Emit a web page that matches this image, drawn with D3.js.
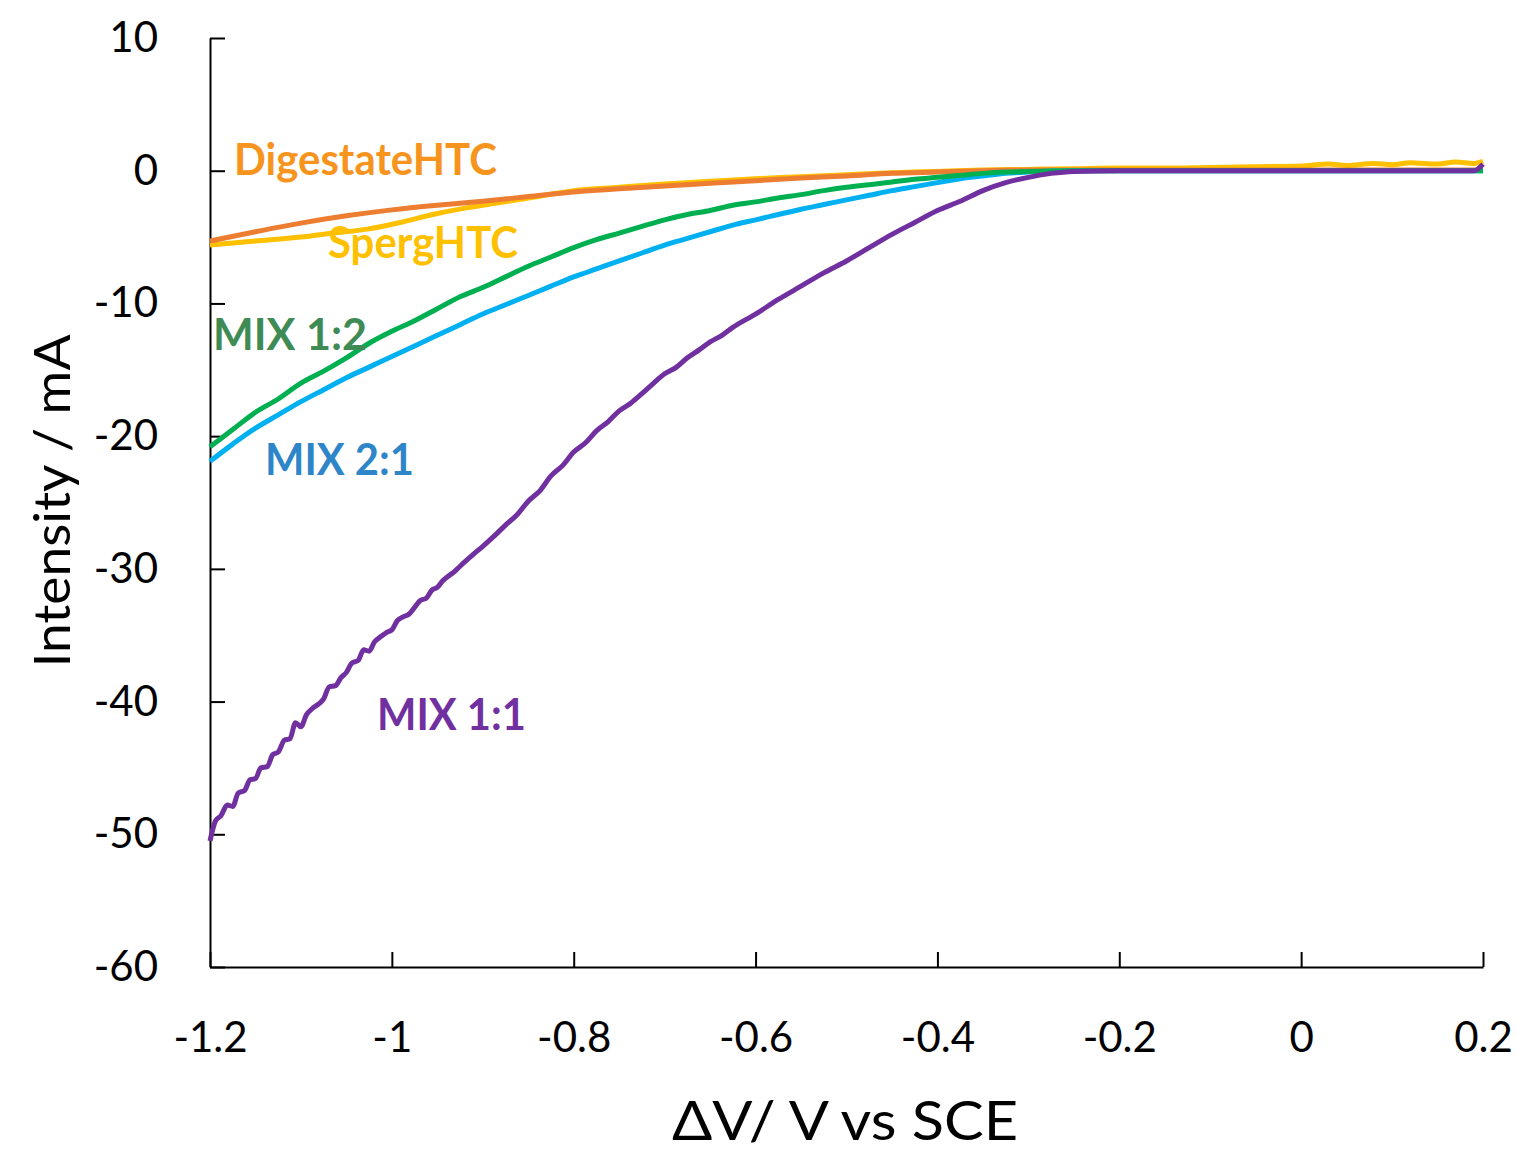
<!DOCTYPE html>
<html>
<head>
<meta charset="utf-8">
<script src="https://cdn.jsdelivr.net/npm/d3@7"></script>
<style>
  html, body { margin: 0; padding: 0; background: #fff; }
  svg text { font-family: Lato, "Open Sans", sans-serif; }
</style>
</head>
<body>
<div id="chart"></div>
<script>
// tick labels
const xTicks = [-1.2, -1, -0.8, -0.6, -0.4, -0.2, 0, 0.2]
const xTickLabels = ['-1.2', '-1', '-0.8', '-0.6', '-0.4', '-0.2', '0', '0.2']
const yTicks = [10, 0, -10, -20, -30, -40, -50, -60]
const yTickLabels = ['10', '0', '-10', '-20', '-30', '-40', '-50', '-60']

// potential (V vs SCE) and current (mA)
const mix11V = [-1.2, -1.194, -1.188, -1.181, -1.175, -1.169, -1.162, -1.156, -1.15, -1.144, -1.137, -1.131, -1.125, -1.118, -1.112, -1.106, -1.1, -1.094, -1.087, -1.081, -1.075, -1.069, -1.062, -1.056, -1.05, -1.044, -1.037, -1.031, -1.025, -1.019, -1.012, -1.006, -1, -0.994, -0.987, -0.981, -0.975, -0.969, -0.962, -0.956, -0.95, -0.944, -0.937, -0.931, -0.925, -0.912, -0.9, -0.887, -0.875, -0.862, -0.85, -0.837, -0.825, -0.812, -0.8, -0.787, -0.775, -0.762, -0.75, -0.737, -0.725, -0.712, -0.7, -0.687, -0.675, -0.662, -0.65, -0.637, -0.625, -0.6, -0.575, -0.55, -0.525, -0.5, -0.475, -0.45, -0.425, -0.4, -0.375, -0.35, -0.325, -0.3, -0.275, -0.25, -0.2, -0.1, 0, 0.1, 0.19, 0.2]
const mix11I = [-50.5, -49.0, -48.6, -47.8, -47.9, -46.9, -46.7, -45.9, -45.8, -45.0, -44.9, -44.0, -43.8, -42.9, -42.8, -41.6, -41.9, -41.0, -40.5, -40.2, -39.8, -38.9, -38.8, -38.2, -37.8, -37.1, -36.9, -36.1, -36.2, -35.5, -35.1, -34.8, -34.6, -33.9, -33.6, -33.4, -32.9, -32.4, -32.2, -31.6, -31.4, -30.9, -30.5, -30.2, -29.8, -29.0, -28.3, -27.5, -26.7, -25.9, -24.9, -24.1, -23.0, -22.2, -21.2, -20.5, -19.6, -18.9, -18.1, -17.5, -16.8, -16.0, -15.3, -14.8, -14.1, -13.5, -12.9, -12.4, -11.8, -10.8, -9.7, -8.7, -7.7, -6.8, -5.8, -4.8, -3.9, -3.0, -2.3, -1.5, -0.9, -0.5, -0.2, -0.05, 0, 0, 0, 0, 0, 0.5]

const mix12V = [-1.2, -1.175, -1.15, -1.125, -1.1, -1.075, -1.05, -1.025, -1, -0.975, -0.95, -0.925, -0.9, -0.875, -0.85, -0.825, -0.8, -0.775, -0.75, -0.725, -0.7, -0.675, -0.65, -0.625, -0.6, -0.575, -0.55, -0.525, -0.5, -0.475, -0.45, -0.425, -0.4, -0.375, -0.35, -0.325, -0.3, -0.25, -0.1, 0.2]
const mix12I = [-20.8, -19.5, -18.2, -17.2, -16.0, -15.1, -14.1, -13.0, -12.1, -11.3, -10.4, -9.5, -8.8, -8.0, -7.2, -6.5, -5.8, -5.2, -4.7, -4.2, -3.7, -3.3, -3.0, -2.6, -2.35, -2.05, -1.8, -1.5, -1.25, -1.05, -0.85, -0.65, -0.5, -0.35, -0.2, -0.1, -0.05, 0, 0, 0]

const mix21V = [-1.2, -1.175, -1.15, -1.125, -1.1, -1.075, -1.05, -1.025, -1, -0.975, -0.95, -0.925, -0.9, -0.875, -0.85, -0.825, -0.8, -0.775, -0.75, -0.725, -0.7, -0.675, -0.65, -0.625, -0.6, -0.575, -0.55, -0.525, -0.5, -0.475, -0.45, -0.425, -0.4, -0.375, -0.35, -0.325, -0.3, -0.25, -0.1, 0.2]
const mix21I = [-21.9, -20.6, -19.4, -18.4, -17.4, -16.5, -15.6, -14.8, -14.0, -13.2, -12.4, -11.6, -10.8, -10.1, -9.4, -8.7, -8.0, -7.4, -6.8, -6.2, -5.6, -5.1, -4.6, -4.1, -3.7, -3.3, -2.9, -2.55, -2.2, -1.85, -1.5, -1.2, -0.9, -0.6, -0.4, -0.2, -0.1, 0, 0, 0]

const digestateV = [-1.2, -1.15, -1.1, -1.05, -1, -0.95, -0.9, -0.85, -0.8, -0.75, -0.7, -0.65, -0.6, -0.55, -0.5, -0.45, -0.4, -0.35, -0.3, 0.2]
const digestateI = [-5.3, -4.6, -3.95, -3.4, -2.95, -2.6, -2.3, -1.95, -1.6, -1.35, -1.15, -0.95, -0.75, -0.55, -0.4, -0.2, -0.1, 0, 0.05, 0.05]

const spergV = [-1.2, -1.15, -1.1, -1.065, -1.027, -0.991, -0.955, -0.918, -0.881, -0.845, -0.8, -0.75, -0.7, -0.65, -0.6, -0.55, -0.5, -0.45, -0.4, -0.35, -0.3, -0.25, -0.2, -0.15, -0.1, -0.05, 0, 0.03, 0.05, 0.08, 0.1, 0.12, 0.15, 0.17, 0.19, 0.2]
const spergI = [-5.6, -5.3, -5.0, -4.7, -4.4, -3.9, -3.3, -2.8, -2.4, -2.0, -1.5, -1.25, -1.0, -0.8, -0.6, -0.45, -0.3, -0.15, -0.05, 0.05, 0.1, 0.15, 0.2, 0.2, 0.25, 0.3, 0.35, 0.5, 0.4, 0.55, 0.45, 0.6, 0.5, 0.65, 0.55, 0.7]

const series = [
    { name: 'SpergHTC', v: spergV, i: spergI, color: '#ffc000' },
    { name: 'DigestateHTC', v: digestateV, i: digestateI, color: '#ed7d31' },
    { name: 'MIX 2:1', v: mix21V, i: mix21I, color: '#00b0f0' },
    { name: 'MIX 1:2', v: mix12V, i: mix12I, color: '#00b050' },
    { name: 'MIX 1:1', v: mix11V, i: mix11I, color: '#7030a0' }
]

const labels = [
    { text: 'DigestateHTC', x: 234, y: 175, len: 263, color: '#f7941d' },
    { text: 'SpergHTC', x: 328, y: 258, len: 190, color: '#ffc000' },
    { text: 'MIX 1:2', x: 213, y: 350, len: 154, color: '#3e8b55' },
    { text: 'MIX 2:1', x: 265, y: 475, len: 149, color: '#2e86c9' },
    { text: 'MIX 1:1', x: 377, y: 730, len: 149, color: '#7030a0' }
]

const width = 1519, height = 1155
const svg = d3.select('#chart').append('svg').attr('width', width).attr('height', height)

const x = d3.scaleLinear().domain([-1.2, 0.2]).range([210, 1483])
const y = d3.scaleLinear().domain([-60, 10]).range([967, 38])

const xAxis = svg.append('g').attr('transform', 'translate(0,967)').
    call(d3.axisBottom(x).tickValues(xTicks).tickFormat((d, k) => xTickLabels[k]).
        tickSizeInner(-15).tickSizeOuter(0).tickPadding(55))
const yAxis = svg.append('g').attr('transform', 'translate(210,0)').
    call(d3.axisLeft(y).tickValues(yTicks).tickFormat((d, k) => yTickLabels[k]).
        tickSizeInner(-15).tickSizeOuter(0).tickPadding(52))

for (const ax of [xAxis, yAxis]) {
    ax.select('.domain').attr('stroke', '#000').attr('stroke-width', 2)
    ax.selectAll('.tick line').attr('stroke', '#000').attr('stroke-width', 2)
    ax.selectAll('.tick text').attr('fill', '#000').style('font-size', '42px').style('font-family', 'Lato')
}

const line = d3.line().x((d) => x(d[0])).y((d) => y(d[1])).curve(d3.curveMonotoneX)
svg.append('g').selectAll('path').
    data(series).
    enter().
    append('path').
    attr('d', (s) => line(s.v.map((v, k) => [v, s.i[k]]))).
    attr('fill', 'none').
    attr('stroke', (s) => s.color).
    attr('stroke-width', 5).
    attr('stroke-linejoin', 'round')

svg.append('g').selectAll('text').
    data(labels).
    enter().
    append('text').
    attr('x', (d) => d.x).
    attr('y', (d) => d.y).
    attr('textLength', (d) => d.len).
    attr('lengthAdjust', 'spacingAndGlyphs').
    attr('fill', (d) => d.color).
    style('font-size', '44px').
    style('font-weight', 'bold').
    text((d) => d.text)

svg.append('text').
    attr('transform', 'translate(70,501) rotate(-90)').
    attr('text-anchor', 'middle').
    attr('textLength', 333).
    attr('lengthAdjust', 'spacingAndGlyphs').
    style('font-size', '50px').
    text('Intensity / mA')

svg.append('text').
    attr('x', 845).
    attr('y', 1140).
    attr('text-anchor', 'middle').
    attr('textLength', 346).
    attr('lengthAdjust', 'spacingAndGlyphs').
    style('font-size', '54px').
    text('ΔV/ V vs SCE')
</script>
</body>
</html>
